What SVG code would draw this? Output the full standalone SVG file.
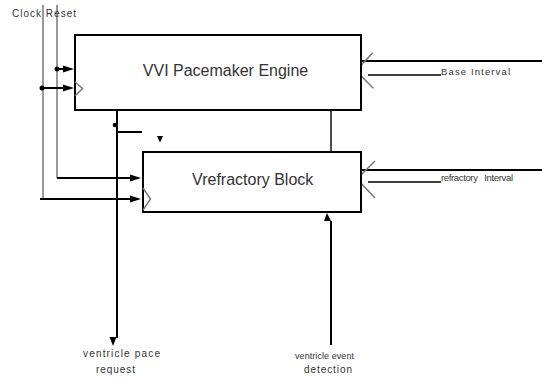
<svg xmlns="http://www.w3.org/2000/svg" width="542" height="378" viewBox="0 0 542 378">
<style>
.box{fill:#fff;stroke:#000;stroke-width:2}
.ln{fill:none;stroke:#000;stroke-width:2}
.thin{fill:none;stroke:#000;stroke-width:1.4}
.gr{fill:none;stroke:#777;stroke-width:1.5}
.ah{fill:#000}
.t{font-family:"Liberation Sans",Arial,sans-serif;fill:#333}
.big{font-size:16px}
.sm{font-size:9.5px;white-space:pre}
</style>
<rect width="542" height="378" fill="#fff"/>
<g id="connectors">
  <path class="gr" d="M43,5 V199"/>
  <path class="gr" d="M57,5 V178"/>
  <path class="ln" d="M57,69 H64"/>
  <circle cx="57" cy="69" r="2.5" class="ah"/>
  <polygon class="ah" points="63,65.5 74,69 63,72.5"/>
  <path class="ln" d="M42,88 H64"/>
  <circle cx="42" cy="88" r="2.5" class="ah"/>
  <polygon class="ah" points="63,84.5 74,88 63,91.5"/>
  <path class="ln" d="M57,178 H131"/>
  <polygon class="ah" points="130,174.5 141,178 130,181.5"/>
  <path class="ln" d="M40,199 H131"/>
  <polygon class="ah" points="130,195.5 141,199 130,202.5"/>
  <path class="ln" d="M117,110 V338"/>
  <polygon class="ah" points="109.5,337 116.5,337 113,346"/>
  <circle cx="115" cy="125" r="2.3" class="ah"/>
  <path class="ln" d="M117,132 H142"/>
  <polygon class="ah" points="157,136 163,136 160,142.5"/>
  <path class="thin" d="M331,111 V152"/>
  <polygon class="ah" points="325,110 330,110 327.5,103"/>
  <path class="ln" d="M331,221 V345"/>
  <polygon class="ah" points="324,221 331,221 327,213"/>
  <path class="ln" d="M361,61 H542"/>
  <path class="thin" d="M368,75 H441"/>
  <path class="gr" d="M372.7,52.7 L356,70.7 L373.3,88.3"/>
  <path class="ln" d="M360,170 H542"/>
  <path class="thin" d="M368,182 H441"/>
  <path class="gr" d="M375,161 L357,179 L375,198"/>
</g>
<g id="engine">
  <rect class="box" x="75" y="35" width="286" height="75"/>
  <path class="gr" d="M75,82 L82.5,88.5 L75,96"/>
  <text class="t big" x="225.5" y="76" text-anchor="middle">VVI Pacemaker Engine</text>
</g>
<g id="refractory">
  <rect class="box" x="143" y="152" width="218" height="60"/>
  <path class="gr" d="M143,188 L150.5,199 L143,210"/>
  <text class="t big" x="252.7" y="184.5" text-anchor="middle">Vrefractory Block</text>
</g>
<g id="labels">
  <text class="t" style="font-size:10px" x="12" y="17" textLength="64" lengthAdjust="spacing">Clock Reset</text>
  <text class="t sm" x="441" y="75" textLength="69" lengthAdjust="spacing">Base Interval</text>
  <text class="t sm" x="441" y="181" textLength="72" lengthAdjust="spacing">refractory   Interval</text>
  <text class="t" style="font-size:10px" x="83" y="357" textLength="77" lengthAdjust="spacing">ventricle pace</text>
  <text class="t" style="font-size:10px" x="96" y="372.5" textLength="39" lengthAdjust="spacing">request</text>
  <text class="t" style="font-size:9px" x="295" y="358.5" textLength="59" lengthAdjust="spacing">ventricle event</text>
  <text class="t" style="font-size:10px" x="304" y="373" textLength="48" lengthAdjust="spacing">detection</text>
</g>
</svg>
